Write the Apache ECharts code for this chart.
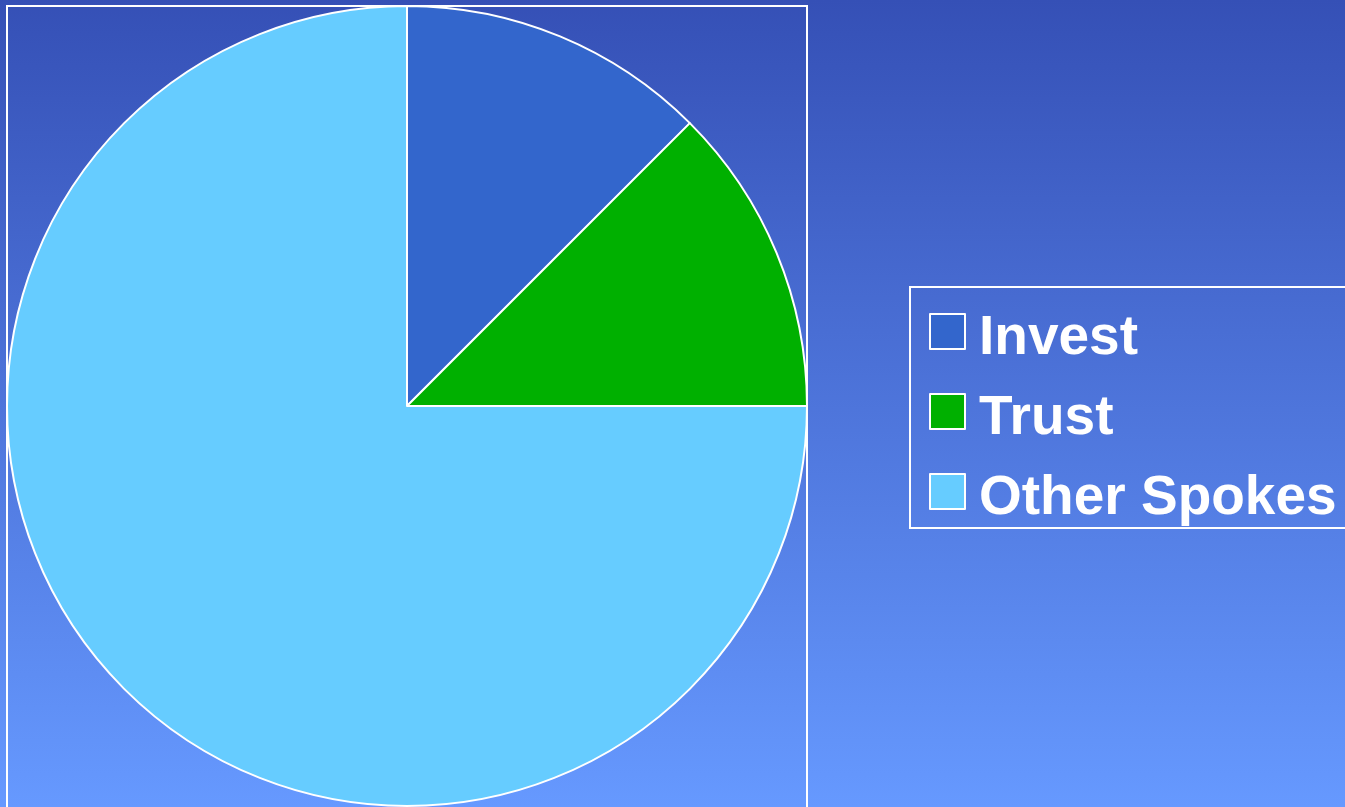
<!DOCTYPE html>
<html>
<head>
<meta charset="utf-8">
<script src="https://cdn.jsdelivr.net/npm/echarts@6/dist/echarts.min.js"></script>
<style>
html,body{margin:0;padding:0;width:100%;height:100%;overflow:hidden;}
#chart{width:1345px;height:807px;}
</style>
</head>
<body>
<div id="chart"></div>
<script>
var categories = ['Invest', 'Trust', 'Other Spokes'];
var values = [12.5, 12.5, 75];
var colors = ['#3366cc', '#00b000', '#66ccff'];

var chart = echarts.init(document.getElementById('chart'), null, {renderer: 'canvas'});
var option = {
  animation: false,
  backgroundColor: {
    type: 'linear', x: 0, y: 0, x2: 0, y2: 1,
    colorStops: [{offset: 0, color: '#3550b6'}, {offset: 1, color: '#6699ff'}]
  },
  graphic: [
    {type: 'rect', shape: {x: 7, y: 6, width: 800, height: 820}, style: {fill: null, stroke: '#ffffff', lineWidth: 2}, z: 0},
    {type: 'rect', shape: {x: 910, y: 287, width: 460, height: 241}, style: {fill: null, stroke: '#ffffff', lineWidth: 2}, z: 0}
  ],
  legend: {
    orient: 'vertical',
    left: 929,
    top: 297,
    padding: 0,
    itemGap: 11,
    itemWidth: 35,
    itemHeight: 35,
    icon: 'rect',
    data: categories,
    itemStyle: {borderColor: '#ffffff', borderWidth: 2},
    formatter: function (name) { return '{t|' + name + '}'; },
    textStyle: {
      color: '#ffffff',
      fontFamily: 'Liberation Sans, Arial, sans-serif',
      fontWeight: 'bold',
      fontSize: 55,
      padding: [0, 0, 0, 9],
      rich: {
        t: {
          color: '#ffffff',
          fontFamily: 'Liberation Sans, Arial, sans-serif',
          fontWeight: 'bold',
          fontSize: 55,
          lineHeight: 60,
          padding: [14, 0, 0, 0]
        }
      }
    },
    selectedMode: false
  },
  series: [{
    type: 'pie',
    center: [407, 406],
    radius: 400,
    startAngle: 90,
    clockwise: true,
    silent: true,
    label: {show: false},
    labelLine: {show: false},
    itemStyle: {borderColor: '#ffffff', borderWidth: 2},
    data: categories.map(function (c, i) {
      return {name: c, value: values[i], itemStyle: {color: colors[i]}};
    })
  }]
};
chart.setOption(option);
</script>
</body>
</html>
